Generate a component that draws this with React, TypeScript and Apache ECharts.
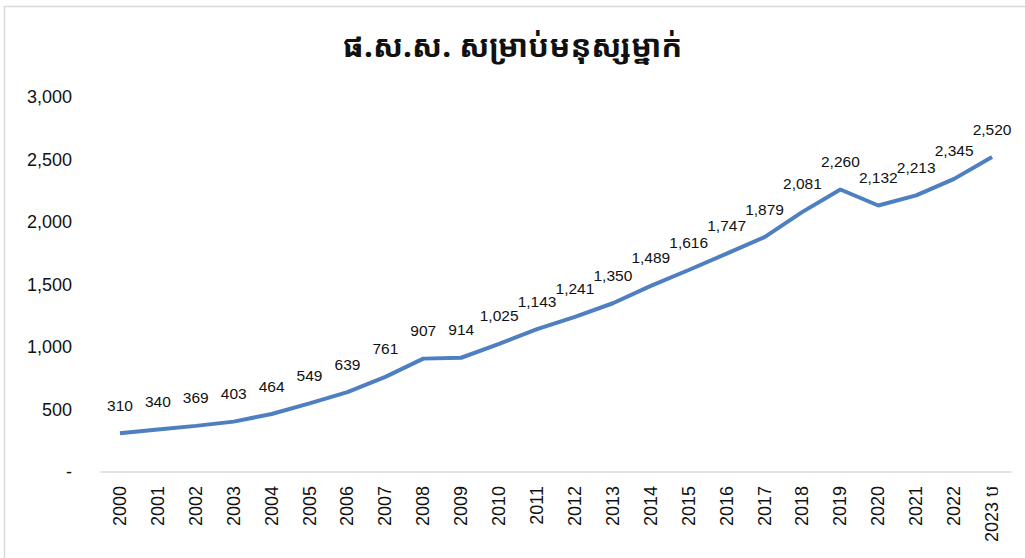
import React, { useEffect, useRef } from "react";
import * as echarts from "echarts";

const titleText = "ផ.ស.ស. សម្រាប់មនុស្សម្នាក់";
const years = [
  "2000", "2001", "2002", "2003", "2004", "2005", "2006", "2007", "2008", "2009",
  "2010", "2011", "2012", "2013", "2014", "2015", "2016", "2017", "2018", "2019",
  "2020", "2021", "2022", "2023 ប",
];
const gdpPerCapita = [
  310, 340, 369, 403, 464, 549, 639, 761, 907, 914,
  1025, 1143, 1241, 1350, 1489, 1616, 1747, 1879, 2081, 2260,
  2132, 2213, 2345, 2520,
];

const fontFamily = "'Liberation Sans', Arial, sans-serif";

export default function App() {
  const ref = useRef<HTMLDivElement>(null);
  useEffect(() => {
    if (!ref.current) return;
    const chart = echarts.init(ref.current, undefined, { renderer: "svg" });
    chart.setOption({
      animation: false,
      backgroundColor: "#ffffff",
      title: {
        text: titleText,
        left: "center",
        top: 24,
        textStyle: {
          fontSize: 31,
          fontWeight: "bold",
          color: "#111",
          fontFamily: "'Noto Sans Khmer', 'Khmer OS', 'DejaVu Sans', sans-serif",
        },
      },
      graphic: [
        {
          type: "rect",
          shape: { x: 4.5, y: 6.5, width: 1040, height: 570 },
          style: { fill: "none", stroke: "#d9d9d9", lineWidth: 1.5 },
          silent: true,
        },
      ],
      grid: { left: 101, right: 14, top: 97, bottom: 86 },
      xAxis: {
        type: "category",
        data: years,
        boundaryGap: true,
        axisLine: { show: true, lineStyle: { color: "#d9d9d9", width: 1.5 } },
        axisTick: { show: false },
        axisLabel: {
          rotate: 90,
          margin: 14,
          fontSize: 18,
          color: "#111",
          fontFamily,
        },
      },
      yAxis: {
        type: "value",
        min: 0,
        max: 3000,
        interval: 500,
        splitLine: { show: false },
        axisLine: { show: false },
        axisTick: { show: false },
        axisLabel: {
          margin: 29,
          fontSize: 18,
          color: "#111",
          fontFamily,
          formatter: (v: number) => (v === 0 ? "-" : v.toLocaleString("en-US")),
        },
      },
      series: [
        {
          type: "line",
          data: gdpPerCapita,
          symbol: "circle",
          symbolSize: 0,
          showSymbol: true,
          lineStyle: { color: "#4e7fc0", width: 4 },
          itemStyle: { color: "#4e7fc0" },
          label: {
            show: true,
            position: "top",
            distance: 20,
            fontSize: 15.5,
            color: "#111",
            fontFamily,
            formatter: (p: any) => Number(p.value).toLocaleString("en-US"),
          },
        },
      ],
    });
    return () => chart.dispose();
  }, []);
  return (
    <div
      ref={ref}
      style={{ position: "absolute", left: 0, top: 0, width: 1025, height: 558 }}
    />
  );
}
